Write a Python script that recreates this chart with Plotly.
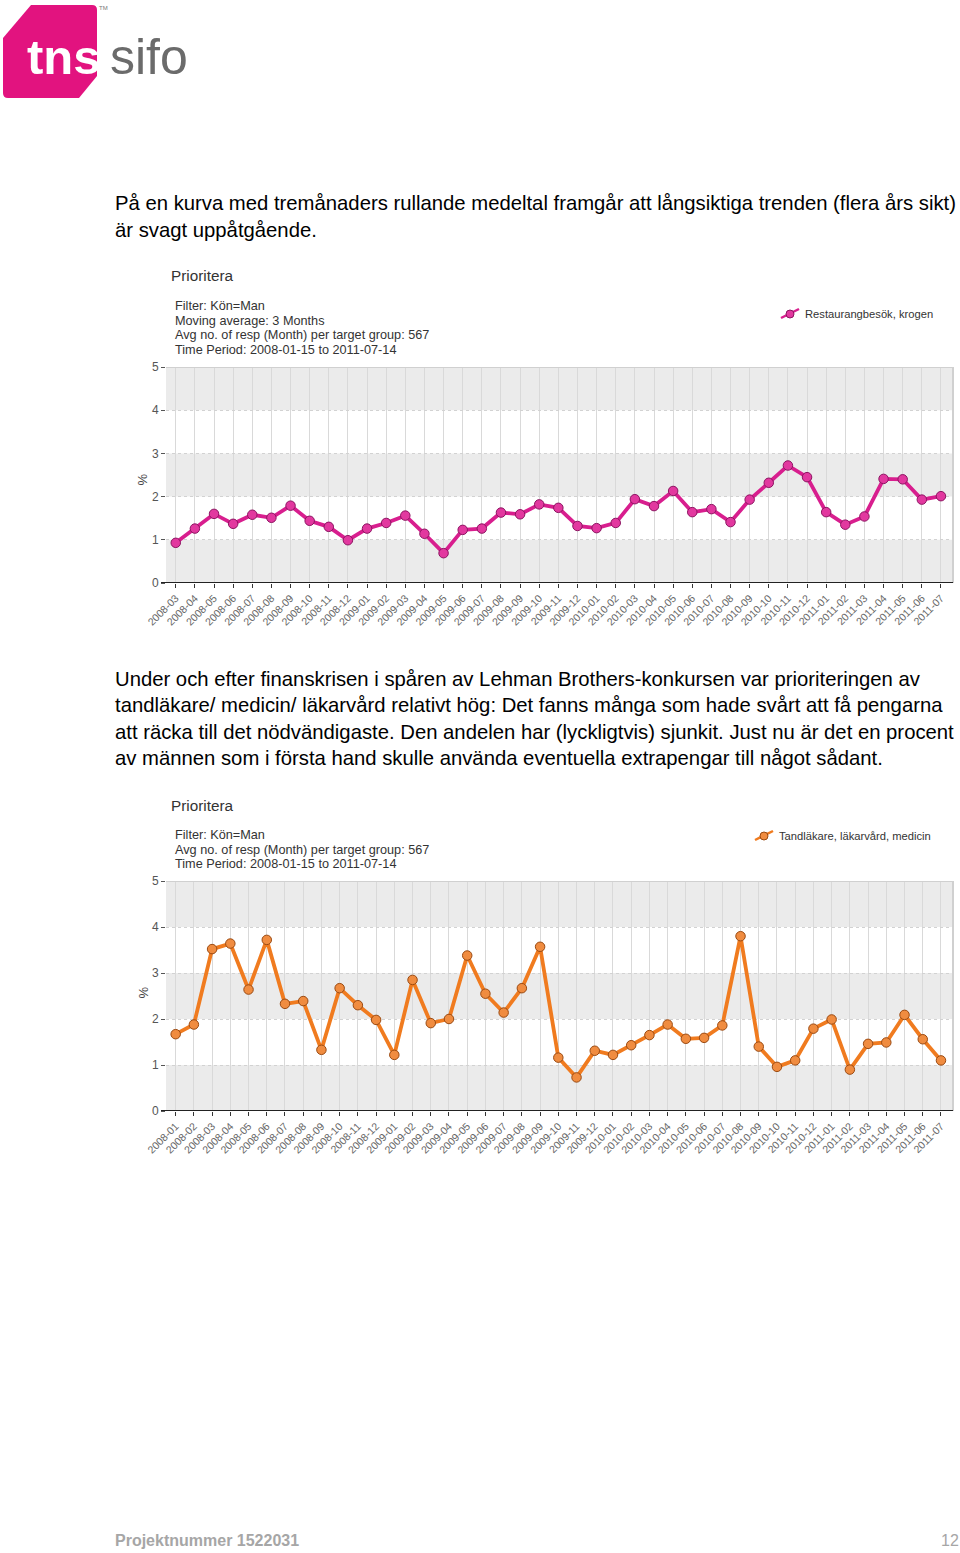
import plotly.graph_objects as go

W, H = 960, 1553

# ---------------- data ----------------
months1 = ["2008-03", "2008-04", "2008-05", "2008-06", "2008-07", "2008-08", "2008-09", "2008-10",
           "2008-11", "2008-12", "2009-01", "2009-02", "2009-03", "2009-04", "2009-05", "2009-06",
           "2009-07", "2009-08", "2009-09", "2009-10", "2009-11", "2009-12", "2010-01", "2010-02",
           "2010-03", "2010-04", "2010-05", "2010-06", "2010-07", "2010-08", "2010-09", "2010-10",
           "2010-11", "2010-12", "2011-01", "2011-02", "2011-03", "2011-04", "2011-05", "2011-06",
           "2011-07"]
restaurang = [0.93, 1.26, 1.60, 1.37, 1.58, 1.51, 1.79, 1.44, 1.30, 0.99, 1.26, 1.39, 1.56, 1.14,
              0.69, 1.23, 1.26, 1.63, 1.59, 1.82, 1.74, 1.32, 1.27, 1.39, 1.94, 1.78, 2.13, 1.64,
              1.71, 1.41, 1.93, 2.32, 2.72, 2.45, 1.64, 1.35, 1.54, 2.41, 2.40, 1.93, 2.01]

months2 = ["2008-01", "2008-02"] + months1
tandlakare = [1.67, 1.88, 3.52, 3.64, 2.64, 3.72, 2.33, 2.39, 1.33, 2.67, 2.30, 1.98, 1.22, 2.85,
              1.91, 2.00, 3.38, 2.55, 2.14, 2.67, 3.57, 1.16, 0.73, 1.31, 1.22, 1.43, 1.65, 1.88,
              1.57, 1.59, 1.86, 3.80, 1.40, 0.96, 1.10, 1.79, 1.99, 0.90, 1.46, 1.49, 2.09, 1.56,
              1.10]

y_ticks = [0, 1, 2, 3, 4, 5]

text1 = ["På en kurva med tremånaders rullande medeltal framgår att långsiktiga trenden (flera års sikt)",
         "är svagt uppåtgående."]
text2 = ["Under och efter finanskrisen i spåren av Lehman Brothers-konkursen var prioriteringen av",
         "tandläkare/ medicin/ läkarvård relativt hög: Det fanns många som hade svårt att få pengarna",
         "att räcka till det nödvändigaste. Den andelen har (lyckligtvis) sjunkit. Just nu är det en procent",
         "av männen som i första hand skulle använda eventuella extrapengar till något sådant."]
header1 = ["Filter: Kön=Man", "Moving average: 3 Months",
           "Avg no. of resp (Month) per target group: 567", "Time Period: 2008-01-15 to 2011-07-14"]
header2 = ["Filter: Kön=Man", "Avg no. of resp (Month) per target group: 567",
           "Time Period: 2008-01-15 to 2011-07-14"]
legend1 = "Restaurangbesök, krogen"
legend2 = "Tandläkare, läkarvård, medicin"


def px(x):
    return x / W


def py(y):
    return 1 - y / H


FONT = "Liberation Sans, Arial, sans-serif"

fig = go.Figure()

charts = [
    dict(cats=months1, vals=restaurang, top=367, bottom=583, name=legend1,
         line="#d81e8e", mfill="#e2389f", mline="#8c1461", xr=[-0.51, 40.63]),
    dict(cats=months2, vals=tandlakare, top=881, bottom=1111, name=legend2,
         line="#f07b1f", mfill="#f08c40", mline="#9a4a12", xr=[-0.53, 42.66]),
]
LEFT, RIGHT = 166, 953

shapes = []
annotations = []

for i, c in enumerate(charts):
    sfx = "" if i == 0 else str(i + 1)
    xa = "x" + sfx
    ya = "y" + sfx
    fig.add_trace(go.Scatter(
        x=c["cats"], y=c["vals"], mode="lines+markers", name=c["name"],
        xaxis=xa, yaxis=ya, showlegend=False,
        line=dict(color=c["line"], width=3.8),
        marker=dict(size=9.5, color=c["mfill"], line=dict(color=c["mline"], width=1)),
    ))
    axis_x = dict(
        domain=[px(LEFT), px(RIGHT)], anchor=ya, type="category",
        categoryorder="array", categoryarray=c["cats"], range=c["xr"],
        tickangle=-45, tickfont=dict(family=FONT, size=10.5, color="#666666"),
        showgrid=True, gridcolor="#d9d9d9", gridwidth=1,
        ticks="outside", ticklen=4, tickcolor="#333333",
        showline=False, zeroline=False, automargin=False,
        fixedrange=True,
    )
    axis_y = dict(
        domain=[py(c["bottom"]), py(c["top"])], anchor=xa, range=[0, 5],
        tickvals=y_ticks, tickfont=dict(family=FONT, size=12, color="#555555"),
        ticks="outside", ticklen=4, tickcolor="#555555",
        showgrid=True, gridcolor="#d2d2d2", gridwidth=1, griddash="dot",
        showline=False, zeroline=False, fixedrange=True, automargin=False,
    )
    fig.update_layout(**{"xaxis" + sfx: axis_x, "yaxis" + sfx: axis_y})

    for lo in (0, 2, 4):
        shapes.append(dict(type="rect", xref=xa + " domain", yref=ya, x0=0, x1=1,
                           y0=lo, y1=lo + 1, fillcolor="#ebebeb", line=dict(width=0),
                           layer="below"))
    shapes.append(dict(type="line", xref=xa + " domain", yref=ya, x0=0, x1=1, y0=5, y1=5,
                       line=dict(color="#d0d0d0", width=2)))
    shapes.append(dict(type="line", xref=xa + " domain", yref=ya, x0=1, x1=1, y0=0, y1=5,
                       line=dict(color="#d0d0d0", width=2)))
    shapes.append(dict(type="line", xref="paper", yref=ya, x0=px(161), x1=px(RIGHT), y0=0, y1=0,
                       line=dict(color="#222222", width=2)))
    annotations.append(dict(text="%", x=px(133), y=py((c["top"] + c["bottom"]) / 2 - 3),
                            xref="paper", yref="paper", showarrow=False, textangle=-90,
                            font=dict(family=FONT, size=13, color="#444444")))

annotations.append(dict(text="Prioritera", x=px(169), y=py(276), xref="paper", yref="paper",
                        xanchor="left", yanchor="middle", showarrow=False,
                        font=dict(family=FONT, size=15.3, color="#333333")))
for k, t in enumerate(header1):
    annotations.append(dict(text=t, x=px(173), y=py(306 + k * 14.7), xref="paper", yref="paper",
                            xanchor="left", yanchor="middle", showarrow=False,
                            font=dict(family=FONT, size=12.7, color="#333333")))
annotations.append(dict(text="Prioritera", x=px(169), y=py(805), xref="paper", yref="paper",
                        xanchor="left", yanchor="middle", showarrow=False,
                        font=dict(family=FONT, size=15.3, color="#333333")))
for k, t in enumerate(header2):
    annotations.append(dict(text=t, x=px(173), y=py(835 + k * 14.7), xref="paper", yref="paper",
                            xanchor="left", yanchor="middle", showarrow=False,
                            font=dict(family=FONT, size=12.7, color="#333333")))

for (lx, ly, txt, col, mcol, mline) in [(803, 314, legend1, "#d81e8e", "#e2389f", "#8c1461"),
                                        (777, 836, legend2, "#f07b1f", "#f08c40", "#9a4a12")]:
    annotations.append(dict(text=txt, x=px(lx), y=py(ly), xref="paper", yref="paper",
                            xanchor="left", yanchor="middle", showarrow=False,
                            font=dict(family=FONT, size=11.2, color="#333333")))
    shapes.append(dict(type="line", xref="paper", yref="paper",
                       x0=px(lx - 22), y0=py(ly + 4), x1=px(lx - 4), y1=py(ly - 5),
                       line=dict(color=col, width=2.5)))
    shapes.append(dict(type="circle", xref="paper", yref="paper",
                       x0=px(lx - 17), y0=py(ly + 4), x1=px(lx - 9), y1=py(ly - 4),
                       fillcolor=mcol, line=dict(color=mline, width=1)))

for k, t in enumerate(text1):
    annotations.append(dict(text=t, x=px(113), y=py(203 + k * 26.5), xref="paper", yref="paper",
                            xanchor="left", yanchor="middle", showarrow=False,
                            font=dict(family=FONT, size=20.3, color="#000000")))
for k, t in enumerate(text2):
    annotations.append(dict(text=t, x=px(113), y=py(679 + k * 26.4), xref="paper", yref="paper",
                            xanchor="left", yanchor="middle", showarrow=False,
                            font=dict(family=FONT, size=20.3, color="#000000")))

annotations.append(dict(text="<b>Projektnummer 1522031</b>", x=px(113), y=py(1540),
                        xref="paper", yref="paper", xanchor="left", yanchor="middle",
                        showarrow=False, font=dict(family=FONT, size=16, color="#a6a6a6")))
annotations.append(dict(text="12", x=px(961), y=py(1540), xref="paper", yref="paper",
                        xanchor="right", yanchor="middle", showarrow=False,
                        font=dict(family=FONT, size=16, color="#a6a6a6")))

pts = "M {} {} L {} {} L {} {} Q {} {} {} {} L {} {} L {} {} L {} {} Q {} {} {} {} Z".format(
    px(3), py(38), px(31), py(5), px(92), py(5), px(97), py(5), px(97), py(10),
    px(97), py(76), px(79), py(98), px(8), py(98), px(3), py(98), px(3), py(93))
shapes.append(dict(type="path", xref="paper", yref="paper", path=pts,
                   fillcolor="#e2137f", line=dict(width=0), layer="below"))
annotations.append(dict(text="<b>tns</b>", x=px(25), y=py(57), xref="paper", yref="paper",
                        xanchor="left", yanchor="middle", showarrow=False,
                        font=dict(family=FONT, size=49, color="#ffffff")))
annotations.append(dict(text="sifo", x=px(108), y=py(57), xref="paper", yref="paper",
                        xanchor="left", yanchor="middle", showarrow=False,
                        font=dict(family=FONT, size=50, color="#6b6b6b")))
annotations.append(dict(text="TM", x=px(97), y=py(8), xref="paper", yref="paper",
                        xanchor="left", yanchor="middle", showarrow=False,
                        font=dict(family=FONT, size=6, color="#777777")))

fig.update_layout(
    width=W, height=H, margin=dict(l=0, r=0, t=0, b=0, pad=0, autoexpand=False),
    paper_bgcolor="white", plot_bgcolor="white",
    shapes=shapes, annotations=annotations, showlegend=False,
)

fig.write_html("out.html", config={"displayModeBar": False},
               post_script="document.body.style.margin='0';document.body.style.overflow='hidden';")
